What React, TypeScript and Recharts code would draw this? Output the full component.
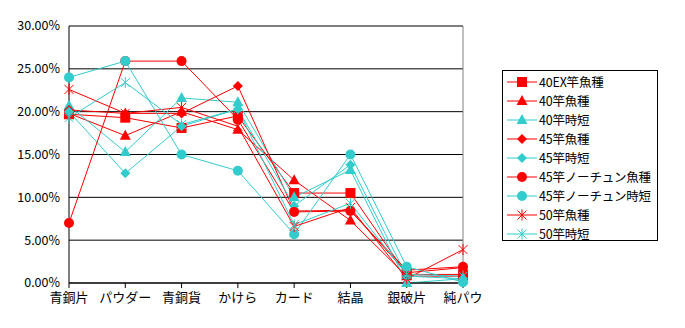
import React from "react";
import { LineChart, Line, XAxis, YAxis, CartesianGrid, ReferenceLine } from "recharts";

const categories = ["青銅片", "パウダー", "青銅貨", "かけら", "カード", "結晶", "銀破片", "純パウ"];

const v40exFish = [19.7, 19.3, 18.1, 19.5, 10.5, 10.5, 1.0, 1.0];
const v40Fish = [19.8, 17.2, 20.0, 17.9, 12.0, 7.3, 0.8, 0.8];
const v40Short = [20.7, 15.3, 21.6, 21.1, 10.0, 13.2, 0.0, 0.5];
const v45Fish = [20.2, 19.8, 19.8, 23.0, 8.4, 8.5, 1.2, 1.8];
const v45Short = [20.0, 12.8, 18.3, 20.3, 9.0, 13.8, 0.8, 0.5];
const v45NtFish = [7.0, 25.9, 25.9, 19.1, 8.3, 8.4, 1.5, 1.9];
const v45NtShort = [24.0, 25.9, 15.0, 13.1, 5.7, 15.0, 1.9, 0.1];
const v50Fish = [22.6, 19.8, 20.5, 18.3, 6.6, 8.8, 0.5, 3.9];
const v50Short = [19.3, 23.4, 18.5, 20.3, 6.8, 9.3, 1.0, 0.8];

const yTicks = [0, 5, 10, 15, 20, 25, 30];

const RED = "#ff0000";
const CYAN = "#33cccc";

type Shape = "square" | "triangle" | "diamond" | "circle" | "star";

const series: { key: string; name: string; color: string; shape: Shape; values: number[] }[] = [
  { key: "s1", name: "40EX竿魚種", color: RED, shape: "square", values: v40exFish },
  { key: "s2", name: "40竿魚種", color: RED, shape: "triangle", values: v40Fish },
  { key: "s3", name: "40竿時短", color: CYAN, shape: "triangle", values: v40Short },
  { key: "s4", name: "45竿魚種", color: RED, shape: "diamond", values: v45Fish },
  { key: "s5", name: "45竿時短", color: CYAN, shape: "diamond", values: v45Short },
  { key: "s6", name: "45竿ノーチュン魚種", color: RED, shape: "circle", values: v45NtFish },
  { key: "s7", name: "45竿ノーチュン時短", color: CYAN, shape: "circle", values: v45NtShort },
  { key: "s8", name: "50竿魚種", color: RED, shape: "star", values: v50Fish },
  { key: "s9", name: "50竿時短", color: CYAN, shape: "star", values: v50Short },
];

const data = categories.map((cat, i) => {
  const row: Record<string, string | number> = { cat };
  series.forEach((s) => {
    row[s.key] = s.values[i];
  });
  return row;
});

const Marker = ({ cx, cy, shape, color }: { cx: number; cy: number; shape: Shape; color: string }) => {
  const r = 5;
  switch (shape) {
    case "square":
      return <rect x={cx - r} y={cy - r} width={r * 2} height={r * 2} fill={color} />;
    case "triangle":
      return <polygon points={`${cx},${cy - r - 1} ${cx + r + 0.5},${cy + r - 1} ${cx - r - 0.5},${cy + r - 1}`} fill={color} />;
    case "diamond":
      return <polygon points={`${cx},${cy - r} ${cx + r},${cy} ${cx},${cy + r} ${cx - r},${cy}`} fill={color} />;
    case "circle":
      return <circle cx={cx} cy={cy} r={r} fill={color} />;
    default:
      return (
        <g stroke={color} strokeWidth={1}>
          <line x1={cx - 4.5} y1={cy - 4.5} x2={cx + 4.5} y2={cy + 4.5} />
          <line x1={cx - 4.5} y1={cy + 4.5} x2={cx + 4.5} y2={cy - 4.5} />
          <line x1={cx} y1={cy - 5.5} x2={cx} y2={cy + 5.5} />
        </g>
      );
  }
};

const makeDot = (shape: Shape, color: string) => (props: any) => (
  <Marker key={`${shape}-${color}-${props.index}`} cx={props.cx} cy={props.cy} shape={shape} color={color} />
);

const ChartLegend = () => (
  <div
    style={{
      position: "absolute",
      left: 502,
      top: 70,
      width: 154,
      height: 169,
      border: "1px solid #000",
      background: "#fff",
      fontFamily: "'Noto Sans CJK JP', sans-serif",
      fontSize: 12.5,
    }}
  >
    {series.map((s, i) => (
      <div key={s.key} style={{ position: "absolute", left: 4, top: 2 + i * 19, height: 18, display: "flex", alignItems: "center" }}>
        <svg width={32} height={18} style={{ display: "block" }}>
          <line x1={0} y1={9} x2={30} y2={9} stroke={s.color} strokeWidth={1} />
          <Marker cx={15} cy={9} shape={s.shape} color={s.color} />
        </svg>
        <span style={{ whiteSpace: "nowrap", lineHeight: "18px", letterSpacing: -0.2 }}>{s.name}</span>
      </div>
    ))}
  </div>
);

export default function App() {
  return (
    <div style={{ position: "absolute", left: 0, top: 0, width: 685, height: 328, background: "#fff" }}>
      <LineChart
        width={685}
        height={328}
        data={data}
        margin={{ top: 26, right: 222, bottom: 0, left: 0 }}
        style={{ fontFamily: "'Noto Sans CJK JP', sans-serif" }}
      >
        <CartesianGrid vertical={false} stroke="#000" strokeWidth={1} />
        <XAxis
          dataKey="cat"
          height={45}
          interval={0}
          stroke="#000"
          tickSize={5}
          tickMargin={5}
          tick={{ fontSize: 13, fill: "#000" }}
        />
        <YAxis
          width={69}
          domain={[0, 30]}
          ticks={yTicks}
          tickFormatter={(v: number) => `${v.toFixed(2)}%`}
          stroke="#000"
          tickLine={false}
          tickSize={0}
          tickMargin={9}
          tick={{ fontSize: 12.5, fill: "#000" }}
        />
        <ReferenceLine x="純パウ" stroke="#808080" />
        {series.map((s) => (
          <Line
            key={s.key}
            dataKey={s.key}
            name={s.name}
            stroke={s.color}
            strokeWidth={1}
            dot={makeDot(s.shape, s.color)}
            activeDot={false}
            isAnimationActive={false}
          />
        ))}
      </LineChart>
      <ChartLegend />
    </div>
  );
}
